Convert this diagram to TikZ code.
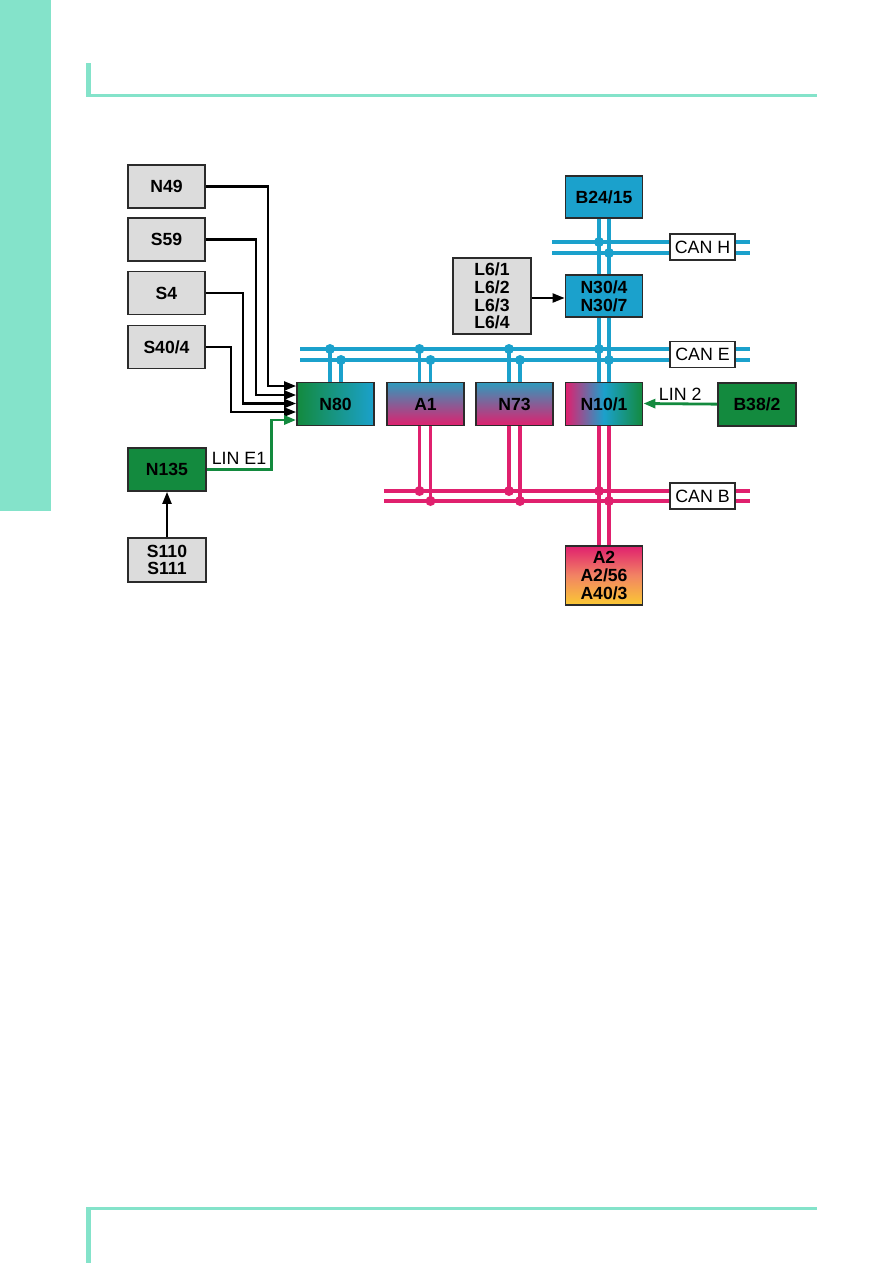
\documentclass[tikz,border=0pt]{standalone}
\usepackage{fontspec}
\setmainfont{Liberation Sans}
\usetikzlibrary{arrows.meta,calc,backgrounds}

\definecolor{mint}{HTML}{84E3CA}
\definecolor{canblue}{HTML}{1BA1CC}
\definecolor{canpink}{HTML}{E0206E}
\definecolor{lingreen}{HTML}{138A3E}
\definecolor{boxgrey}{HTML}{DCDCDC}
\definecolor{boxline}{HTML}{2B2B2B}
\definecolor{a2orange}{HTML}{F28463}
\definecolor{a2yellow}{HTML}{FAC933}

\begin{document}
\begin{tikzpicture}[x=1pt, y=-1pt,
    box/.style={draw=boxline, line width=1.8pt, minimum width=77pt, minimum height=43pt, inner sep=0pt,
      font=\bfseries\fontsize{17.6}{17.8}\selectfont, align=center},
    grey/.style={box, fill=boxgrey},
    canbox/.style={draw=boxline, fill=white, line width=1.8pt, minimum width=65pt, minimum height=26pt,
      inner sep=0pt, font=\fontsize{17.8}{18}\selectfont},
    arr/.style={-{Triangle[length=12pt,width=9pt]}, line width=2.2pt},
    linarr/.style={arr, lingreen, line width=2.8pt},
    blue bus/.style={canblue, line width=3.7pt},
    pink bus/.style={canpink, line width=3.7pt},
    dot/.style={circle, inner sep=0pt, minimum size=10pt},
  ]
  \useasboundingbox (0,0) rectangle (893,1263);

  % page frame
  \fill[mint] (0,0) rectangle (51,511);
  \fill[mint] (85.5,63) rectangle (90.5,97);
  \fill[mint] (85.5,94) rectangle (817,97);
  \fill[mint] (85.5,1207) rectangle (817,1210);
  \fill[mint] (85.5,1207) rectangle (90.5,1263);

  % switches and sensors
  \node[grey] (n49) at (166.5,186.5) {N49};
  \node[grey] (s59) at (166.5,239.5) {S59};
  \node[grey] (s4) at (166.5,293) {S4};
  \node[grey] (s40) at (166.5,347) {S40/4};
  \node[box, fill=lingreen, minimum width=78pt] (n135) at (167,469.5) {N135};
  \node[grey, minimum width=78pt, minimum height=44pt] (s110) at (167,560) {S110\\S111};

  % control units
  \node[box, left color=lingreen, right color=canblue] (n80) at (335.5,404) {N80};
  \node[box, top color=canblue!80!gray, bottom color=canpink] (a1) at (425.5,404) {A1};
  \node[box, top color=canblue!80!gray, bottom color=canpink] (n73) at (514.5,404) {N73};
  \node[box, left color=canpink, right color=lingreen, middle color=canblue] (n10) at (604,404) {N10/1};
  \node[box, fill=lingreen, minimum width=78pt] (b38) at (757,404.5) {B38/2};
  \node[box, fill=canblue, minimum height=42pt] (b24) at (604,197) {B24/15};
  \node[box, fill=canblue, minimum height=42pt] (n30) at (604,296) {N30/4\\N30/7};
  \node[grey, minimum width=78pt, minimum height=76pt] (l6) at (492,296) {L6/1\\L6/2\\L6/3\\L6/4};
  \node[box, top color=canpink, bottom color=a2yellow, middle color=a2orange,
    minimum height=59pt] (a2) at (604,575.5) {A2\\A2/56\\A40/3};

  % bus labels
  \node[canbox] (canh) at (702.5,247) {CAN H};
  \node[canbox] (cane) at (702.5,354.5) {CAN E};
  \node[canbox] (canb) at (702.5,496) {CAN B};

  % bus ends
  \coordinate (hU) at (552,242);
  \coordinate (hL) at (552,253);
  \coordinate (eU) at (300,349);
  \coordinate (eL) at (300,360);
  \coordinate (bU) at (384,491);
  \coordinate (bL) at (384,501);

  \begin{scope}[on background layer]
    \draw[blue bus] (hU) -- (hU -| 750,0);
    \draw[blue bus] (hL) -- (hL -| 750,0);
    \draw[blue bus] (eU) -- (eU -| 750,0);
    \draw[blue bus] (eL) -- (eL -| 750,0);
    \draw[pink bus] (bU) -- (bU -| 750,0);
    \draw[pink bus] (bL) -- (bL -| 750,0);

    % CAN E
    \draw[blue bus] ([xshift=-5.5pt]n80.north) coordinate (p) -- (p |- eU) node[dot, fill=canblue] {};
    \draw[blue bus] ([xshift=5.5pt]n80.north) coordinate (p) -- (p |- eL) node[dot, fill=canblue] {};
    \draw[blue bus] ([xshift=-6pt]a1.north) coordinate (p) -- (p |- eU) node[dot, fill=canblue] {};
    \draw[blue bus] ([xshift=5pt]a1.north) coordinate (p) -- (p |- eL) node[dot, fill=canblue] {};
    \draw[blue bus] ([xshift=-5.5pt]n73.north) coordinate (p) -- (p |- eU) node[dot, fill=canblue] {};
    \draw[blue bus] ([xshift=5.5pt]n73.north) coordinate (p) -- (p |- eL) node[dot, fill=canblue] {};

    % B24/15 - N30 - N10/1 risers
    \draw[blue bus] ([xshift=-5pt]b24.south) -- ([xshift=-5pt]n10.north);
    \draw[blue bus] ([xshift=5pt]b24.south) -- ([xshift=5pt]n10.north);
    \fill[canblue] ([xshift=-5pt]b24.south |- hU) circle (5pt);
    \fill[canblue] ([xshift=5pt]b24.south |- hL) circle (5pt);
    \fill[canblue] ([xshift=-5pt]b24.south |- eU) circle (5pt);
    \fill[canblue] ([xshift=5pt]b24.south |- eL) circle (5pt);

    % CAN B
    \draw[pink bus] ([xshift=-6pt]a1.south) coordinate (p) -- (p |- bU) node[dot, fill=canpink] {};
    \draw[pink bus] ([xshift=5pt]a1.south) coordinate (p) -- (p |- bL) node[dot, fill=canpink] {};
    \draw[pink bus] ([xshift=-5.5pt]n73.south) coordinate (p) -- (p |- bU) node[dot, fill=canpink] {};
    \draw[pink bus] ([xshift=5.5pt]n73.south) coordinate (p) -- (p |- bL) node[dot, fill=canpink] {};
    \draw[pink bus] ([xshift=-5pt]n10.south) -- ([xshift=-5pt]a2.north);
    \draw[pink bus] ([xshift=5pt]n10.south) -- ([xshift=5pt]a2.north);
    \fill[canpink] ([xshift=-5pt]n10.south |- bU) circle (5pt);
    \fill[canpink] ([xshift=5pt]n10.south |- bL) circle (5pt);
  \end{scope}

  % discrete inputs to N80
  \draw[arr] (n49.east) -| ([xshift=-28pt,yshift=18pt]n80.west) -- ([yshift=18pt]n80.west);
  \draw[arr] (s59.east) -| ([xshift=-40pt,yshift=9pt]n80.west) -- ([yshift=9pt]n80.west);
  \draw[arr] (s4.east) -| ([xshift=-53pt,yshift=0.5pt]n80.west) -- ([yshift=0.5pt]n80.west);
  \draw[arr] (s40.east) -| ([xshift=-65pt,yshift=-8pt]n80.west) -- ([yshift=-8pt]n80.west);
  \draw[linarr] (n135.east) -| node[pos=0.25, above, black, font=\fontsize{17.8}{18}\selectfont] {LIN E1}
    ([xshift=-25pt,yshift=-16pt]n80.west) -- ([yshift=-16pt]n80.west);
  \draw[arr] (s110) -- (n135);
  \draw[arr] (l6.east |- n30.west) ++(0,2) -- ([yshift=-2pt]n30.west);
  \draw[linarr] (b38) -- node[above, black, font=\fontsize{17.8}{18}\selectfont, yshift=-1pt] {LIN 2} ([yshift=0.5pt]n10.east);
\end{tikzpicture}
\end{document}
